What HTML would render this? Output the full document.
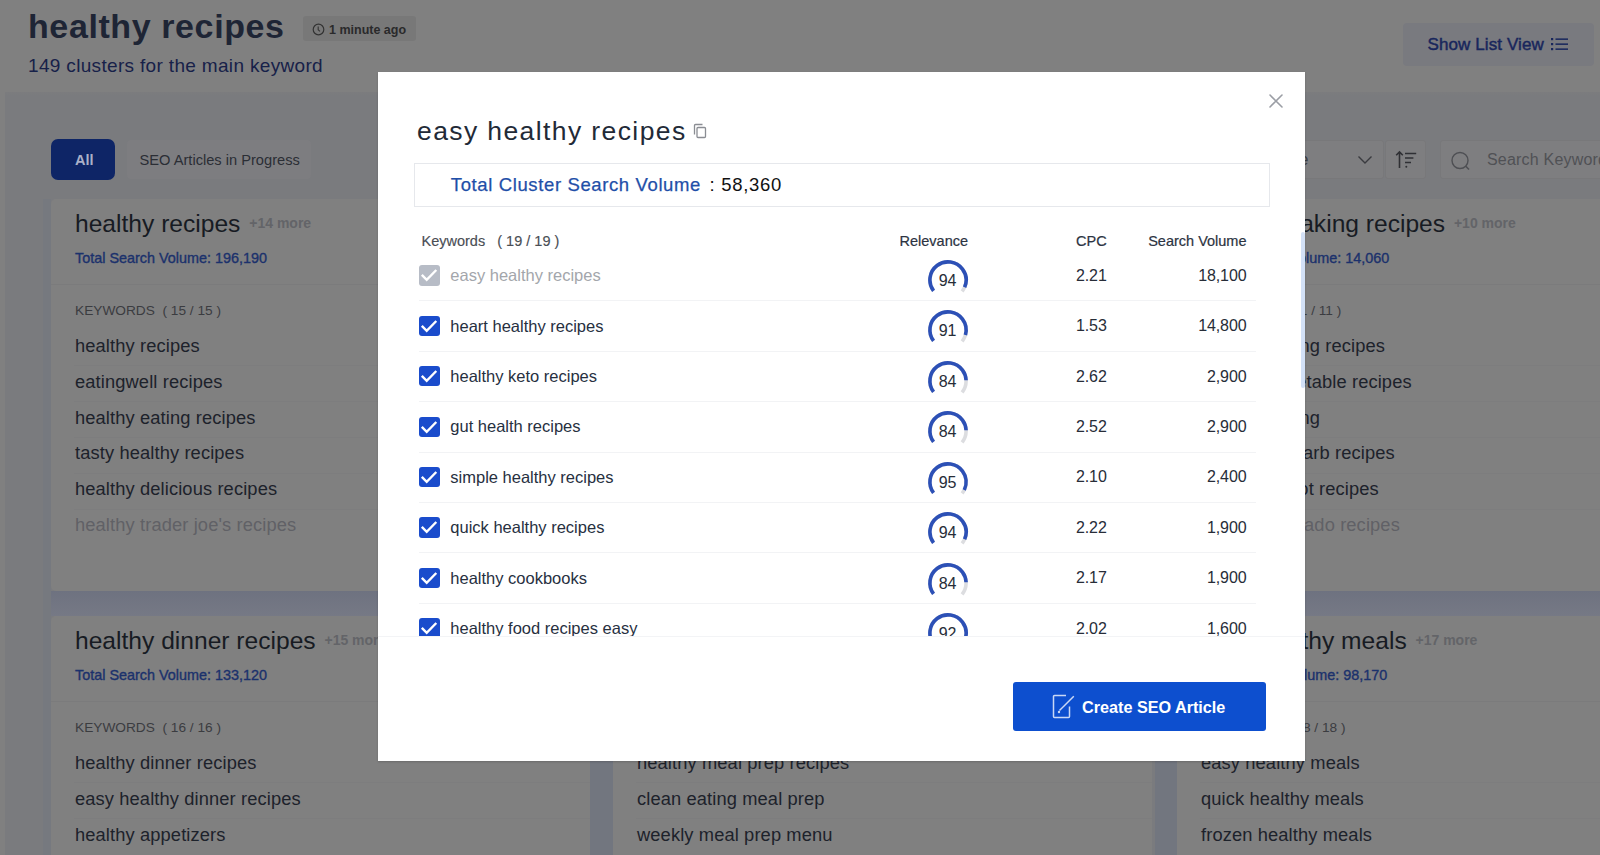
<!DOCTYPE html><html><head><meta charset="utf-8"><style>
*{box-sizing:border-box;margin:0;padding:0}
html,body{width:1600px;height:855px;overflow:hidden;background:#808080;font-family:"Liberation Sans",sans-serif}
.a{position:absolute;white-space:nowrap;line-height:1}
.card{position:absolute;background:#808080;border-radius:5px;width:539px;overflow:hidden}
.ct{font-size:24.6px;color:#171b23}
.more{font-size:14px;color:#636468;font-weight:bold;position:relative;top:-4px;margin-left:2px}
.cv{font-size:14.4px;color:#1b316c;-webkit-text-stroke:0.35px #1b316c}
.cdiv{position:absolute;left:0;right:0;height:1px;background:#7b7b7c}
.ck{font-size:13.7px;color:#3b3c40}
.kw{font-size:18.3px;color:#1d222b;letter-spacing:0.12px}
.kw.fd{color:#606166}
.kwl{position:absolute;left:23px;right:0;height:1px;background:#7d7d7e}
#modal{position:absolute;left:378px;top:72px;width:927px;height:689px;background:#fff;box-shadow:0 1px 2px rgba(0,0,0,0.18)}
.m{position:absolute;white-space:nowrap;line-height:1}
.cb{position:absolute;left:41.3px;width:20.3px;height:20.3px;border-radius:3px;background:#1a4ccc}
.cb.dis{background:#b7bcc6}
.cb svg{position:absolute;left:0;top:0}
.mk{font-size:16.5px;color:#27303f}
.mk.dis{color:#a3a6ab}
.num{font-size:16px;letter-spacing:-0.1px;color:#272d38;text-align:right}
.rl{position:absolute;left:40.5px;width:837.5px;height:1px;background:#f2f3f5}
</style></head><body>
<div class="a" style="left:28px;top:9.22px;font-size:34px;font-weight:bold;color:#1e2535;letter-spacing:0.6px">healthy recipes</div>
<div class="a" style="left:303px;top:16px;width:113px;height:25px;background:#787878;border-radius:3px"></div>
<svg class="a" style="left:312px;top:23px" width="13" height="13" viewBox="0 0 13 13"><circle cx="6.5" cy="6.5" r="5.3" fill="none" stroke="#333" stroke-width="1.2"/><path d="M6.2 3.6V6.8L8 8.4" fill="none" stroke="#333" stroke-width="1.1"/></svg>
<div class="a" style="left:329px;top:23.82px;font-size:12.5px;font-weight:bold;color:#2a2a2b">1 minute ago</div>
<div class="a" style="left:28px;top:55.92px;font-size:19px;color:#172149;letter-spacing:0.33px">149 clusters for the main keyword</div>
<div class="a" style="left:1403px;top:23px;width:191px;height:43px;background:#797a7f;border-radius:4px"></div>
<div class="a" style="left:1427.5px;top:35.61px;font-size:17px;color:#18265c;-webkit-text-stroke:0.45px #18265c;letter-spacing:0.1px">Show List View</div>
<svg class="a" style="left:1551px;top:37px" width="18" height="14" viewBox="0 0 18 14"><g fill="#18265c"><rect x="0" y="1" width="2.2" height="2.2"/><rect x="0" y="6" width="2.2" height="2.2"/><rect x="0" y="11" width="2.2" height="2.2"/><rect x="4.5" y="1.4" width="12.5" height="1.5"/><rect x="4.5" y="6.4" width="12.5" height="1.5"/><rect x="4.5" y="11.4" width="12.5" height="1.5"/></g></svg>
<div class="a" style="left:5px;top:92px;width:1595px;height:763px;background:#7a7b7e"></div>
<div class="a" style="left:5px;top:92px;width:1595px;height:4px;background:linear-gradient(#7c7c7e,#7a7b7e)"></div>
<div class="a" style="left:43px;top:199px;width:8px;height:656px;background:#76797f"></div>
<div class="a" style="left:51px;top:591px;width:1549px;height:25px;background:linear-gradient(#6e7280,#767985)"></div>
<div class="a" style="left:590px;top:199px;width:23px;height:656px;background:#72767f"></div>
<div class="a" style="left:1155px;top:199px;width:22px;height:656px;background:#72767f"></div>
<div class="a" style="left:51px;top:139px;width:64px;height:41px;background:#0e2566;border-radius:7px"></div>
<div class="a" style="left:75px;top:153.23px;font-size:14.5px;font-weight:bold;color:#a9b0c8">All</div>
<div class="a" style="left:127px;top:140px;width:184px;height:39px;background:#7d7d80;border-radius:4px"></div>
<div class="a" style="left:139.5px;top:153.2px;font-size:14.65px;color:#2b2e35">SEO Articles in Progress</div>
<div class="a" style="left:1200px;top:140px;width:184px;height:39px;background:#7e7e80;border:1px solid #78787a;border-radius:3px"></div>
<div class="a" style="right:291.5px;top:152.06px;font-size:16px;color:#3b3c40">Sort by relevance</div>
<svg class="a" style="left:1357px;top:155px" width="16" height="10" viewBox="0 0 16 10"><path d="M1.5 1.5L8 8L14.5 1.5" fill="none" stroke="#3a3b3f" stroke-width="1.4"/></svg>
<div class="a" style="left:1385px;top:140px;width:41px;height:39px;background:#7e7e80;border:1px solid #78787a;border-radius:3px"></div>
<svg class="a" style="left:1395px;top:150px" width="24" height="20" viewBox="0 0 24 20"><g fill="none" stroke="#2f3034" stroke-width="1.6"><path d="M4.5 18V2M1.2 5.3L4.5 2L7.8 5.3"/><path d="M10 3.5H21.2M10 8H18.4M10 12.5H16"/></g><circle cx="11.3" cy="16.8" r="1" fill="#2f3034"/></svg>
<div class="a" style="left:1440px;top:140px;width:170px;height:39px;background:#7e7e80;border:1px solid #78787a;border-radius:3px"></div>
<svg class="a" style="left:1450px;top:151px" width="22" height="22" viewBox="0 0 22 22"><circle cx="10" cy="9.5" r="8" fill="none" stroke="#4e4f53" stroke-width="1.4"/><path d="M15.8 15.3L19 18.5" stroke="#4e4f53" stroke-width="1.6"/></svg>
<div class="a" style="left:1487px;top:152.06px;font-size:16px;color:#505155;letter-spacing:0.2px">Search Keywords</div>
<div class="card" style="left:51px;top:199px;height:392px">
<div class="a ct" style="left:24px;top:13.18px">healthy recipes <span class="more">+14 more</span></div>
<div class="a cv" style="left:24px;top:51.65px">Total Search Volume: 196,190</div>
<div class="cdiv" style="top:85px"></div>
<div class="a ck" style="left:24px;top:105.4px">KEYWORDS&nbsp;&nbsp;( 15 / 15 )</div>
<div class="a kw" style="left:24px;top:137.91px">healthy recipes</div>
<div class="kwl" style="top:166.4px"></div>
<div class="a kw" style="left:24px;top:173.71px">eatingwell recipes</div>
<div class="kwl" style="top:202.2px"></div>
<div class="a kw" style="left:24px;top:209.51px">healthy eating recipes</div>
<div class="kwl" style="top:238.0px"></div>
<div class="a kw" style="left:24px;top:245.31px">tasty healthy recipes</div>
<div class="kwl" style="top:273.8px"></div>
<div class="a kw" style="left:24px;top:281.11px">healthy delicious recipes</div>
<div class="kwl" style="top:309.6px"></div>
<div class="a kw fd" style="left:24px;top:316.91px">healthy trader joe&#39;s recipes</div>
</div>
<div class="card" style="left:1177px;top:199px;height:392px">
<div class="a ct" style="right:200.2px;top:13.18px">healthy baking recipes <span class="more">+10 more</span></div>
<div class="a cv" style="right:326.7px;top:51.65px">Total Search Volume: 14,060</div>
<div class="cdiv" style="top:85px"></div>
<div class="a ck" style="right:374.7px;top:105.4px">KEYWORDS&nbsp;&nbsp;( 11 / 11 )</div>
<div class="a kw" style="right:331.0px;top:137.91px">healthy baking recipes</div>
<div class="kwl" style="top:166.4px"></div>
<div class="a kw" style="right:304.3px;top:173.71px">healthy vegetable recipes</div>
<div class="kwl" style="top:202.2px"></div>
<div class="a kw" style="right:396.0px;top:209.51px">healthy cooking</div>
<div class="kwl" style="top:238.0px"></div>
<div class="a kw" style="right:321.2px;top:245.31px">healthy low carb recipes</div>
<div class="kwl" style="top:273.8px"></div>
<div class="a kw" style="right:337.2px;top:281.11px">healthy instant pot recipes</div>
<div class="kwl" style="top:309.6px"></div>
<div class="a kw fd" style="right:316.1px;top:316.91px">healthy avocado recipes</div>
</div>
<div class="card" style="left:51px;top:616px;height:300px">
<div class="a ct" style="left:24px;top:13.18px">healthy dinner recipes <span class="more">+15 more</span></div>
<div class="a cv" style="left:24px;top:51.65px">Total Search Volume: 133,120</div>
<div class="cdiv" style="top:85px"></div>
<div class="a ck" style="left:24px;top:105.4px">KEYWORDS&nbsp;&nbsp;( 16 / 16 )</div>
<div class="a kw" style="left:24px;top:137.91px">healthy dinner recipes</div>
<div class="kwl" style="top:166.4px"></div>
<div class="a kw" style="left:24px;top:173.71px">easy healthy dinner recipes</div>
<div class="kwl" style="top:202.2px"></div>
<div class="a kw" style="left:24px;top:209.51px">healthy appetizers</div>
</div>
<div class="card" style="left:613px;top:616px;height:300px">
<div class="a ct" style="left:24px;top:13.18px">healthy meal prep <span class="more">+19 more</span></div>
<div class="a cv" style="left:24px;top:51.65px">Total Search Volume: 88,410</div>
<div class="cdiv" style="top:85px"></div>
<div class="a ck" style="left:24px;top:105.4px">KEYWORDS&nbsp;&nbsp;( 20 / 20 )</div>
<div class="a kw" style="left:24px;top:137.91px">healthy meal prep recipes</div>
<div class="kwl" style="top:166.4px"></div>
<div class="a kw" style="left:24px;top:173.71px">clean eating meal prep</div>
<div class="kwl" style="top:202.2px"></div>
<div class="a kw" style="left:24px;top:209.51px">weekly meal prep menu</div>
</div>
<div class="card" style="left:1177px;top:616px;height:300px">
<div class="a ct" style="right:238.6px;top:13.18px">easy healthy meals <span class="more">+17 more</span></div>
<div class="a cv" style="right:328.7px;top:51.65px">Total Search Volume: 98,170</div>
<div class="cdiv" style="top:85px"></div>
<div class="a ck" style="right:370.5px;top:105.4px">KEYWORDS&nbsp;&nbsp;( 18 / 18 )</div>
<div class="a kw" style="left:24px;top:137.91px">easy healthy meals</div>
<div class="kwl" style="top:166.4px"></div>
<div class="a kw" style="left:24px;top:173.71px">quick healthy meals</div>
<div class="kwl" style="top:202.2px"></div>
<div class="a kw" style="left:24px;top:209.51px">frozen healthy meals</div>
</div>
<div id="modal">
<svg class="m" style="left:890.6px;top:21.9px" width="14" height="14" viewBox="0 0 14 14"><path d="M1 1L13 13M13 1L1 13" stroke="#9b9ea5" stroke-width="1.6" stroke-linecap="round"/></svg>
<div class="m" style="left:39px;top:45.57px;font-size:26.5px;color:#222a37;letter-spacing:1.4px">easy healthy recipes</div>
<svg class="m" style="left:315px;top:51px" width="14" height="16" viewBox="0 0 14 16"><g fill="none" stroke="#8a8d93" stroke-width="1.3"><rect x="4" y="4.5" width="8.5" height="10" rx="1"/><path d="M1.5 11.5V2.5a1 1 0 0 1 1-1h7"/></g></svg>
<div class="m" style="left:36px;top:91px;width:856px;height:44px;border:1px solid #e6e8ec;background:#fff"></div>
<div class="m" style="left:72.8px;top:103.64px;font-size:18.5px;color:#1f4fa8;letter-spacing:0.62px;-webkit-text-stroke:0.25px #1f4fa8">Total Cluster Search Volume</div>
<div class="m" style="left:331.5px;top:103.64px;font-size:18.5px;color:#111">:</div>
<div class="m" style="left:343.3px;top:103.64px;font-size:18.5px;color:#111;letter-spacing:0.7px">58,360</div>
<div class="m" style="left:43.5px;top:161.93px;font-size:14.5px;color:#4a4e55;-webkit-text-stroke:0.15px #4a4e55">Keywords&nbsp;&nbsp;&nbsp;( 19 / 19 )</div>
<div class="m" style="left:521.5px;top:162.13px;font-size:14.5px;color:#2c3442;-webkit-text-stroke:0.2px #2c3442">Relevance</div>
<div class="m" style="left:600px;width:128.7px;top:162.13px;font-size:14.5px;color:#2c3442;-webkit-text-stroke:0.2px #2c3442;text-align:right">CPC</div>
<div class="m" style="left:700px;width:168.5px;top:162.13px;font-size:14.5px;color:#2c3442;-webkit-text-stroke:0.2px #2c3442;text-align:right">Search Volume</div>
<div class="m" style="left:0;top:0;width:927px;height:564.5px;overflow:hidden">
<div class="cb dis" style="top:193.30px"><svg width="20" height="20" viewBox="0 0 20 20"><path d="M2.8 9.8L7.7 14.8L17.3 5.0" fill="none" stroke="#fff" stroke-width="2.4"/></svg></div>
<div class="m mk dis" style="left:72.3px;top:195.13px">easy healthy recipes</div>
<svg class="m" style="left:547.50px;top:186.00px" width="44" height="44" viewBox="0 0 44 44"><g transform="rotate(143.0 22 22)" fill="none" stroke-width="3.6"><circle cx="22" cy="22" r="18.1" stroke="#dcdde0" stroke-dasharray="80.24 113.73"/><circle cx="22" cy="22" r="18.1" stroke="#2c50b6" stroke-dasharray="75.43 113.73"/></g></svg>
<div class="m num" style="left:549.50px;width:40px;text-align:center;font-size:16px;top:201.06px">94</div>
<div class="m num" style="left:600px;width:128.7px;top:195.66px">2.21</div>
<div class="m num" style="left:700px;width:168.5px;top:195.66px">18,100</div>
<div class="rl" style="top:228.30px"></div>
<div class="cb" style="top:243.73px"><svg width="20" height="20" viewBox="0 0 20 20"><path d="M2.8 9.8L7.7 14.8L17.3 5.0" fill="none" stroke="#fff" stroke-width="2.4"/></svg></div>
<div class="m mk" style="left:72.3px;top:245.56px">heart healthy recipes</div>
<svg class="m" style="left:547.50px;top:236.43px" width="44" height="44" viewBox="0 0 44 44"><g transform="rotate(143.0 22 22)" fill="none" stroke-width="3.6"><circle cx="22" cy="22" r="18.1" stroke="#dcdde0" stroke-dasharray="80.24 113.73"/><circle cx="22" cy="22" r="18.1" stroke="#2c50b6" stroke-dasharray="73.02 113.73"/></g></svg>
<div class="m num" style="left:549.50px;width:40px;text-align:center;font-size:16px;top:251.49px">91</div>
<div class="m num" style="left:600px;width:128.7px;top:246.09px">1.53</div>
<div class="m num" style="left:700px;width:168.5px;top:246.09px">14,800</div>
<div class="rl" style="top:278.73px"></div>
<div class="cb" style="top:294.16px"><svg width="20" height="20" viewBox="0 0 20 20"><path d="M2.8 9.8L7.7 14.8L17.3 5.0" fill="none" stroke="#fff" stroke-width="2.4"/></svg></div>
<div class="m mk" style="left:72.3px;top:295.99px">healthy keto recipes</div>
<svg class="m" style="left:547.50px;top:286.86px" width="44" height="44" viewBox="0 0 44 44"><g transform="rotate(143.0 22 22)" fill="none" stroke-width="3.6"><circle cx="22" cy="22" r="18.1" stroke="#dcdde0" stroke-dasharray="80.24 113.73"/><circle cx="22" cy="22" r="18.1" stroke="#2c50b6" stroke-dasharray="67.40 113.73"/></g></svg>
<div class="m num" style="left:549.50px;width:40px;text-align:center;font-size:16px;top:301.92px">84</div>
<div class="m num" style="left:600px;width:128.7px;top:296.52px">2.62</div>
<div class="m num" style="left:700px;width:168.5px;top:296.52px">2,900</div>
<div class="rl" style="top:329.16px"></div>
<div class="cb" style="top:344.59px"><svg width="20" height="20" viewBox="0 0 20 20"><path d="M2.8 9.8L7.7 14.8L17.3 5.0" fill="none" stroke="#fff" stroke-width="2.4"/></svg></div>
<div class="m mk" style="left:72.3px;top:346.42px">gut health recipes</div>
<svg class="m" style="left:547.50px;top:337.29px" width="44" height="44" viewBox="0 0 44 44"><g transform="rotate(143.0 22 22)" fill="none" stroke-width="3.6"><circle cx="22" cy="22" r="18.1" stroke="#dcdde0" stroke-dasharray="80.24 113.73"/><circle cx="22" cy="22" r="18.1" stroke="#2c50b6" stroke-dasharray="67.40 113.73"/></g></svg>
<div class="m num" style="left:549.50px;width:40px;text-align:center;font-size:16px;top:352.35px">84</div>
<div class="m num" style="left:600px;width:128.7px;top:346.95px">2.52</div>
<div class="m num" style="left:700px;width:168.5px;top:346.95px">2,900</div>
<div class="rl" style="top:379.59px"></div>
<div class="cb" style="top:395.02px"><svg width="20" height="20" viewBox="0 0 20 20"><path d="M2.8 9.8L7.7 14.8L17.3 5.0" fill="none" stroke="#fff" stroke-width="2.4"/></svg></div>
<div class="m mk" style="left:72.3px;top:396.85px">simple healthy recipes</div>
<svg class="m" style="left:547.50px;top:387.72px" width="44" height="44" viewBox="0 0 44 44"><g transform="rotate(143.0 22 22)" fill="none" stroke-width="3.6"><circle cx="22" cy="22" r="18.1" stroke="#dcdde0" stroke-dasharray="80.24 113.73"/><circle cx="22" cy="22" r="18.1" stroke="#2c50b6" stroke-dasharray="76.23 113.73"/></g></svg>
<div class="m num" style="left:549.50px;width:40px;text-align:center;font-size:16px;top:402.78px">95</div>
<div class="m num" style="left:600px;width:128.7px;top:397.38px">2.10</div>
<div class="m num" style="left:700px;width:168.5px;top:397.38px">2,400</div>
<div class="rl" style="top:430.02px"></div>
<div class="cb" style="top:445.45px"><svg width="20" height="20" viewBox="0 0 20 20"><path d="M2.8 9.8L7.7 14.8L17.3 5.0" fill="none" stroke="#fff" stroke-width="2.4"/></svg></div>
<div class="m mk" style="left:72.3px;top:447.28px">quick healthy recipes</div>
<svg class="m" style="left:547.50px;top:438.15px" width="44" height="44" viewBox="0 0 44 44"><g transform="rotate(143.0 22 22)" fill="none" stroke-width="3.6"><circle cx="22" cy="22" r="18.1" stroke="#dcdde0" stroke-dasharray="80.24 113.73"/><circle cx="22" cy="22" r="18.1" stroke="#2c50b6" stroke-dasharray="75.43 113.73"/></g></svg>
<div class="m num" style="left:549.50px;width:40px;text-align:center;font-size:16px;top:453.21px">94</div>
<div class="m num" style="left:600px;width:128.7px;top:447.81px">2.22</div>
<div class="m num" style="left:700px;width:168.5px;top:447.81px">1,900</div>
<div class="rl" style="top:480.45px"></div>
<div class="cb" style="top:495.88px"><svg width="20" height="20" viewBox="0 0 20 20"><path d="M2.8 9.8L7.7 14.8L17.3 5.0" fill="none" stroke="#fff" stroke-width="2.4"/></svg></div>
<div class="m mk" style="left:72.3px;top:497.71px">healthy cookbooks</div>
<svg class="m" style="left:547.50px;top:488.58px" width="44" height="44" viewBox="0 0 44 44"><g transform="rotate(143.0 22 22)" fill="none" stroke-width="3.6"><circle cx="22" cy="22" r="18.1" stroke="#dcdde0" stroke-dasharray="80.24 113.73"/><circle cx="22" cy="22" r="18.1" stroke="#2c50b6" stroke-dasharray="67.40 113.73"/></g></svg>
<div class="m num" style="left:549.50px;width:40px;text-align:center;font-size:16px;top:503.64px">84</div>
<div class="m num" style="left:600px;width:128.7px;top:498.24px">2.17</div>
<div class="m num" style="left:700px;width:168.5px;top:498.24px">1,900</div>
<div class="rl" style="top:530.88px"></div>
<div class="cb" style="top:546.31px"><svg width="20" height="20" viewBox="0 0 20 20"><path d="M2.8 9.8L7.7 14.8L17.3 5.0" fill="none" stroke="#fff" stroke-width="2.4"/></svg></div>
<div class="m mk" style="left:72.3px;top:548.14px">healthy food recipes easy</div>
<svg class="m" style="left:547.50px;top:539.01px" width="44" height="44" viewBox="0 0 44 44"><g transform="rotate(143.0 22 22)" fill="none" stroke-width="3.6"><circle cx="22" cy="22" r="18.1" stroke="#dcdde0" stroke-dasharray="80.24 113.73"/><circle cx="22" cy="22" r="18.1" stroke="#2c50b6" stroke-dasharray="73.82 113.73"/></g></svg>
<div class="m num" style="left:549.50px;width:40px;text-align:center;font-size:16px;top:554.07px">92</div>
<div class="m num" style="left:600px;width:128.7px;top:548.67px">2.02</div>
<div class="m num" style="left:700px;width:168.5px;top:548.67px">1,600</div>
<div class="rl" style="top:581.31px"></div>
</div>
<div class="m" style="left:922.5px;top:160px;width:4.2px;height:156px;background:#d3e1f7;border-radius:2px"></div>
<div class="m" style="left:0;top:564px;width:927px;height:1px;background:#f3f4f6"></div>
<div class="m" style="left:635px;top:610px;width:253px;height:49px;background:#0d4fcf;border-radius:3px"></div>
<svg class="m" style="left:674px;top:622px" width="24" height="25" viewBox="0 0 24 25"><g fill="none" stroke="#c9d8f5" stroke-width="1.5"><path d="M14 1.5H2.5a1 1 0 0 0-1 1v20a1 1 0 0 0 1 1h14a1 1 0 0 0 1-1v-10"/><path d="M7.5 16.5L21.8 2.2"/></g><circle cx="7" cy="18" r="1.2" fill="#c9d8f5"/></svg>
<div class="m" style="left:704px;top:626.79px;font-size:16.2px;font-weight:bold;color:#fff">Create SEO Article</div>
</div>
</body></html>
